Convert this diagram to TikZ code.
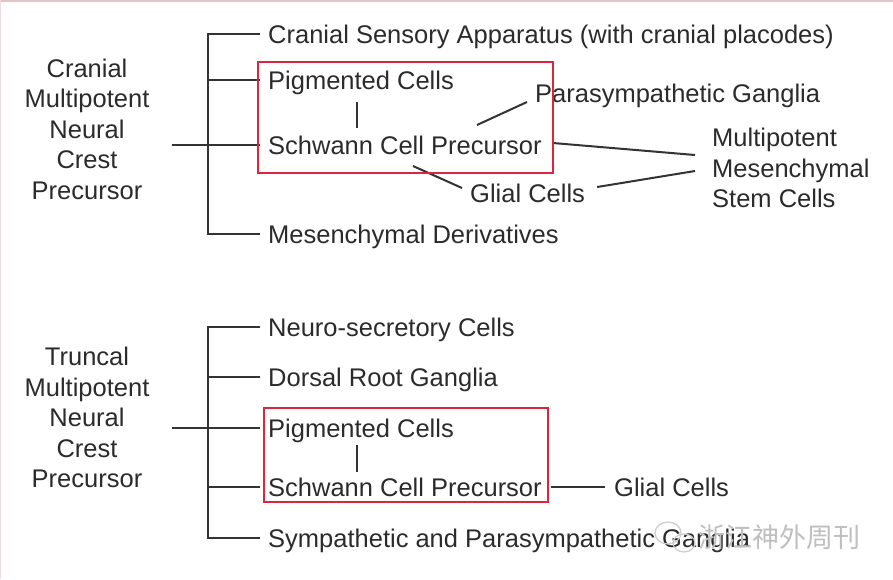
\documentclass[tikz,border=0pt]{standalone}
\usepackage{fontspec}
\setmainfont{Liberation Sans}
\newfontfamily\cjkfont{Noto Sans CJK SC}
\usetikzlibrary{calc}
\definecolor{txt}{HTML}{2B2B2B}
\definecolor{ln}{HTML}{333333}
\definecolor{redbox}{HTML}{E0243F}
\definecolor{edge}{HTML}{E6C3C8}
\begin{document}
\begin{tikzpicture}[x=1pt,y=-1pt,
  lbl/.style={anchor=west, inner sep=0pt, text height=18.4pt, text depth=0pt, text=txt, font=\fontsize{25.5}{30.5}\selectfont},
  stack/.style={inner sep=0pt, text=txt, font=\fontsize{25.5}{30.5}\selectfont},
  conn/.style={draw=ln, line width=2pt},
  hl/.style={draw=redbox, line width=2pt},
  wm/.style={inner sep=0pt, text=gray!50, font=\cjkfont\fontsize{27}{30}\selectfont}]
\useasboundingbox (0,0) rectangle (893,579);
\fill[white] (0,0) rectangle (893,579);
\draw[edge, line width=1.5pt] (0,0.75) -- (893,0.75);
\draw[edge!60, line width=1pt] (0.5,0) -- (0.5,579);

% ---------- Cranial ----------
\node[stack, align=center] (cranial) at (87,129) {Cranial\\Multipotent\\Neural\\Crest\\Precursor};
\node[lbl] (cs) at (268,34) {Cranial Sensory Apparatus (with cranial placodes)};
\node[lbl] (pc1) at (268,80) {Pigmented Cells};
\node[lbl] (scp1) at (268,145) {Schwann Cell Precursor};
\node[lbl] (md) at (268,234) {Mesenchymal Derivatives};
\node[lbl] (pg) at (535,93) {Parasympathetic Ganglia};
\node[lbl] (gc1) at (470,193) {Glial Cells};
\node[stack, align=left, anchor=west] (msc) at (712,168) {Multipotent\\Mesenchymal\\Stem Cells};

\coordinate (bt1) at (208,34);
\coordinate (bb1) at (208,234);
\coordinate (in1) at (172,145);
\draw[conn] ([xshift=-8pt]cs.west) -- (bt1) -- (bb1) -- ([xshift=-8pt]md.west);
\draw[conn] (pc1.west -| bt1) -- ([xshift=-8pt]pc1.west);
\draw[conn] (in1) -- ([xshift=-8pt]scp1.west);
\draw[conn] ($(pc1.west)+(89,22)$) -- ($(scp1.west)+(89,-17)$);
\draw[conn] ($(scp1.west)+(209,-20)$) -- ($(pg.west)+(-8,9)$);
\draw[conn] ($(scp1.east)+(11,-2)$) -- ($(msc.west)+(-17,-13)$);
\draw[conn] ($(scp1.west)+(145,21)$) -- ($(gc1.west)+(-8,-5)$);
\draw[conn] ($(gc1.east)+(12,-6)$) -- ($(msc.west)+(-17,3)$);
\draw[hl] (258,62) rectangle (553,173);

% ---------- Truncal ----------
\node[stack, align=center] (truncal) at (87,417.5) {Truncal\\Multipotent\\Neural\\Crest\\Precursor};
\node[lbl] (nsc) at (268,327) {Neuro-secretory Cells};
\node[lbl] (drg) at (268,377) {Dorsal Root Ganglia};
\node[lbl] (pc2) at (268,428) {Pigmented Cells};
\node[lbl] (scp2) at (268,487) {Schwann Cell Precursor};
\node[lbl] (spg) at (268,538) {Sympathetic and Parasympathetic Ganglia};
\node[lbl] (gc2) at (614,487) {Glial Cells};

\coordinate (bt2) at (208,327);
\coordinate (bb2) at (208,538);
\coordinate (in2) at (172,428);
\draw[conn] ([xshift=-8pt]nsc.west) -- (bt2) -- (bb2) -- ([xshift=-8pt]spg.west);
\draw[conn] (drg.west -| bt2) -- ([xshift=-8pt]drg.west);
\draw[conn] (in2) -- ([xshift=-8pt]pc2.west);
\draw[conn] (scp2.west -| bt2) -- ([xshift=-8pt]scp2.west);
\draw[conn] ($(pc2.west)+(89,17)$) -- ($(scp2.west)+(89,-15)$);
\draw[conn] ($(scp2.east)+(9,0)$) -- ([xshift=-9pt]gc2.west);
\draw[hl] (264,408) rectangle (548,502);

% ---------- watermark ----------
\node[wm, anchor=west] (wmtext) at (698,537) {浙江神外周刊};
\draw[gray!40, line width=1.2pt] (668,533) ellipse (13 and 11);
\draw[gray!40, line width=1.2pt] (684,543) ellipse (11 and 9);
\end{tikzpicture}
\end{document}
